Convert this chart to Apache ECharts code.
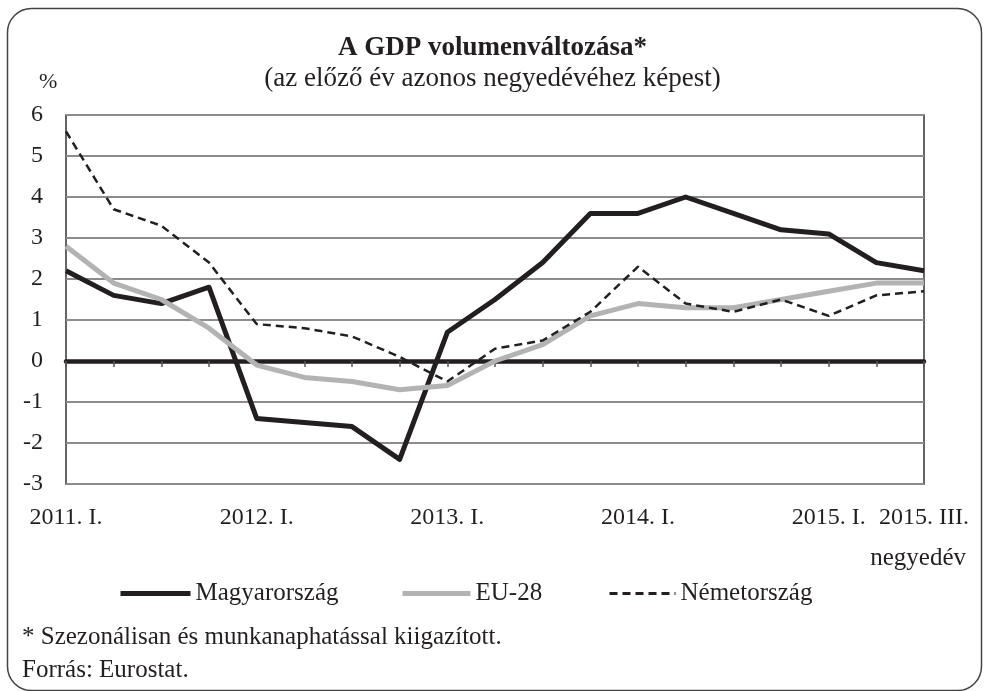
<!DOCTYPE html>
<html>
<head>
<meta charset="utf-8">
<script src="https://cdn.jsdelivr.net/npm/echarts@6/dist/echarts.min.js"></script>
<style>
html,body{margin:0;padding:0;background:#fff;}
#chart{width:985px;height:691px;}
</style>
</head>
<body>
<div id="chart"></div>
<script>
// ---- data ----
var categories = ["2011. I.","2011. II.","2011. III.","2011. IV.",
  "2012. I.","2012. II.","2012. III.","2012. IV.",
  "2013. I.","2013. II.","2013. III.","2013. IV.",
  "2014. I.","2014. II.","2014. III.","2014. IV.",
  "2015. I.","2015. II.","2015. III."];
var shownLabels = ["2011. I.","2012. I.","2013. I.","2014. I.","2015. I.","2015. III."];
var seriesNames = ["Magyarország","EU-28","Németország"];
var hungary = [2.2,1.6,1.4,1.8,-1.4,-1.5,-1.6,-2.4,0.7,1.5,2.4,3.6,3.6,4.0,3.6,3.2,3.1,2.4,2.2];
var eu28    = [2.8,1.9,1.5,0.8,-0.1,-0.4,-0.5,-0.7,-0.6,0.0,0.4,1.1,1.4,1.3,1.3,1.5,1.7,1.9,1.9];
var germany = [5.6,3.7,3.3,2.4,0.9,0.8,0.6,0.1,-0.5,0.3,0.5,1.2,2.3,1.4,1.2,1.5,1.1,1.6,1.7];
var yMin = -3, yMax = 6, yStep = 1;
var titleText = "A GDP volumenváltozása*";
var subtitleText = "(az előző év azonos negyedévéhez képest)";
var unitText = "%";
var xAxisName = "negyedév";
var footnote1 = "* Szezonálisan és munkanaphatással kiigazított.";
var footnote2 = "Forrás: Eurostat.";

// ---- chart ----
var FONT = '"Liberation Serif", "Times New Roman", serif';
var TXT = '#231f20';
var chart = echarts.init(document.getElementById('chart'), null, {renderer: 'canvas'});

function legendFor(name, left, width, lw) {
  return {
    data: [name], left: left, top: 581, padding: 0, itemWidth: width, itemHeight: 14, itemGap: 0,
    lineStyle: {width: lw},
    itemStyle: {opacity: 0},
    textStyle: {fontFamily: FONT, fontSize: 25, color: TXT},
    selectedMode: false
  };
}

var option = {
  backgroundColor: '#fff',
  animation: false,
  title: [
    {text: titleText, left: 'center', top: 30,
     textStyle: {fontFamily: FONT, fontSize: 27, fontWeight: 'bold', color: TXT}},
    {text: subtitleText, left: 'center', top: 60,
     textStyle: {fontFamily: FONT, fontSize: 27, fontWeight: 'normal', color: TXT}},
    {text: unitText, left: 34, top: 66,
     textStyle: {fontFamily: FONT, fontSize: 22, fontWeight: 'normal', color: TXT}}
  ],
  grid: {left: 66, right: 61, top: 115, bottom: 207, show: true,
         borderColor: '#333', borderWidth: 1.5, backgroundColor: 'transparent'},
  legend: [
    legendFor(seriesNames[0], 118, 70, 5),
    legendFor(seriesNames[1], 400, 68, 5),
    legendFor(seriesNames[2], 608, 66, 3)
  ],
  xAxis: [
    {type: 'category', data: categories, boundaryGap: false, position: 'bottom',
     axisLine: {show: false, onZero: false}, axisTick: {show: false},
     splitLine: {show: false},
     axisLabel: {fontFamily: FONT, fontSize: 24, color: TXT, margin: 22, hideOverlap: false,
       interval: function (idx, val) { return shownLabels.indexOf(val) >= 0; }}},
    {type: 'category', data: categories, boundaryGap: false, position: 'bottom',
     axisLine: {show: true, onZero: true, lineStyle: {color: '#231f20', width: 4.5}},
     axisTick: {show: true, length: 6, interval: 0, lineStyle: {color: '#555', width: 1.5}},
     axisLabel: {show: false}, splitLine: {show: false}}
  ],
  yAxis: {
    type: 'value', min: yMin, max: yMax, interval: yStep,
    axisLine: {show: false}, axisTick: {show: false},
    splitLine: {show: true, lineStyle: {color: '#8c8c8c', width: 2}},
    axisLabel: {fontFamily: FONT, fontSize: 24, color: TXT, margin: 23}
  },
  series: [
    {name: seriesNames[0], type: 'line', data: hungary, xAxisIndex: 0, symbol: 'none',
     lineStyle: {color: '#231f20', width: 5, join: 'round'}, itemStyle: {color: '#231f20'}, z: 3},
    {name: seriesNames[1], type: 'line', data: eu28, xAxisIndex: 0, symbol: 'none',
     lineStyle: {color: '#b3b3b3', width: 5, join: 'round'}, itemStyle: {color: '#b3b3b3'}, z: 4},
    {name: seriesNames[2], type: 'line', data: germany, xAxisIndex: 0, symbol: 'none',
     lineStyle: {color: '#231f20', width: 2.5, type: [8, 5]}, itemStyle: {color: '#231f20'}, z: 5}
  ],
  graphic: [
    {type: 'rect', left: 5, top: 6, shape: {x: 0, y: 0, width: 974, height: 682, r: 24},
     style: {fill: 'none', stroke: '#444', lineWidth: 1.5}, silent: true},
    {type: 'text', x: 966, y: 558,
     style: {text: xAxisName, fill: TXT, font: '25px ' + FONT, align: 'right', verticalAlign: 'middle',
             textAlign: 'right', textVerticalAlign: 'middle'}},
    {type: 'text', x: 22, y: 637,
     style: {text: footnote1, fill: TXT, font: '25px ' + FONT, align: 'left', verticalAlign: 'middle',
             textAlign: 'left', textVerticalAlign: 'middle'}},
    {type: 'text', x: 22, y: 670,
     style: {text: footnote2, fill: TXT, font: '25px ' + FONT, align: 'left', verticalAlign: 'middle',
             textAlign: 'left', textVerticalAlign: 'middle'}}
  ]
};
chart.setOption(option);
</script>
</body>
</html>
